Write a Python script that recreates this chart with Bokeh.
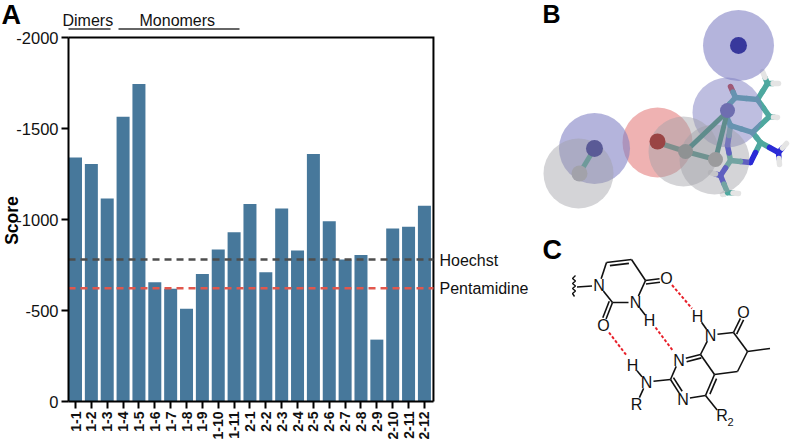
import math
from bokeh.embed import file_html
from bokeh.resources import INLINE
from bokeh.plotting import figure
from bokeh.layouts import row, column
from bokeh.models import Range1d, FixedTicker, Label
from bokeh.core.properties import value

FONT = "Liberation Sans"

# ---- panel A data ----
categories = ["1-1","1-2","1-3","1-4","1-5","1-6","1-7","1-8","1-9","1-10","1-11",
              "2-1","2-2","2-3","2-4","2-5","2-6","2-7","2-8","2-9","2-10","2-11","2-12"]
scores = [-1340,-1305,-1115,-1565,-1745,-655,-620,-510,-700,-835,-930,
          -1085,-710,-1060,-830,-1360,-990,-780,-805,-340,-950,-960,-1075]
y_ticks = [0,-500,-1000,-1500,-2000]
y_tick_labels = ["0","-500","-1000","-1500","-2000"]
hoechst = -780
pentamidine = -622

BAR = "#47789b"
X_L, X_R = -0.44, 22.57
Y_TOP = -2000

def data_y(py):
    return -(401 - py) / 0.182

def data_x(px):
    return (px - 75) / 15.86

a = figure(width=530, height=440, output_backend="svg", toolbar_location=None,
           x_range=Range1d(data_x(0), data_x(530)), y_range=Range1d(data_y(440), data_y(0)),
           min_border=0)
idx = list(range(len(categories)))
a.vbar(x=idx, top=scores, bottom=0, width=0.82, color=BAR, line_color=None)
a.grid.visible = False
a.outline_line_color = None

xa = a.xaxis[0]
xa.fixed_location = 0
xa.bounds = (X_L, X_R)
xa.ticker = FixedTicker(ticks=idx)
xa.major_label_overrides = {i: c for i, c in zip(idx, categories)}
xa.major_label_orientation = math.pi / 2
xa.major_label_text_font = FONT
xa.major_label_text_font_size = "14px"
xa.major_label_text_font_style = "bold"
xa.major_label_text_color = "#111111"
xa.major_label_standoff = 3
xa.axis_line_width = 2
xa.major_tick_line_width = 2
xa.major_tick_in = 0
xa.major_tick_out = 7
xa.minor_tick_line_color = None

ya = a.yaxis[0]
ya.fixed_location = X_L
ya.bounds = (Y_TOP, 0)
ya.ticker = FixedTicker(ticks=y_ticks)
ya.major_label_overrides = {t: s for t, s in zip(y_ticks, y_tick_labels)}
ya.major_label_text_font = FONT
ya.major_label_text_font_size = "16.5px"
ya.major_label_text_color = "#111111"
ya.major_label_standoff = 3
ya.axis_line_width = 2
ya.major_tick_line_width = 2
ya.major_tick_in = 0
ya.major_tick_out = 7
ya.minor_tick_line_color = None

# frame top and right edges
a.line([X_L, X_R, X_R], [Y_TOP, Y_TOP, 0], line_color="black", line_width=2, line_join="miter")
# reference lines
a.line([X_L, X_R], [hoechst, hoechst], line_color="#4d4d4d", line_width=2.6, line_dash="7 5")
a.line([X_L, X_R], [pentamidine, pentamidine], line_color="#e2574c", line_width=2.6, line_dash="7 5")
# group rules above the frame
for x0, x1 in [(68, 110), (118, 239)]:
    a.line([data_x(x0), data_x(x1)], [data_y(28.5), data_y(28.5)], line_color="#333333", line_width=1.4)

def a_text(txt, px, py, size, style="normal", color="#111111", angle=0.0, align="left"):
    a.add_layout(Label(x=data_x(px), y=data_y(py), text=txt, text_font=FONT,
                       text_font_size=size, text_font_style=style, text_color=color,
                       text_baseline="middle", text_align=align, angle=angle))

a_text("A", 1, 14, "27px", "bold", "black")
a_text("Score", 11, 220, "17.5px", "bold", "black", angle=math.pi / 2, align="center")
a_text("Dimers", 62, 20, "16px")
a_text("Monomers", 139, 20, "16px")
a_text("Hoechst", 439, 260, "16px")
a_text("Pentamidine", 439, 288, "16px")

# ---- panel B ----
b = figure(width=261, height=225, output_backend="svg", toolbar_location=None,
           x_range=Range1d(530, 791), y_range=Range1d(225, 0),
           min_border=0, x_axis_type=None, y_axis_type=None)
b.grid.visible = False
b.outline_line_color = None

TEAL = "#4ea89f"
mol_atoms = {
    "O": (730, 86), "C1": (735, 97), "C2": (757, 99), "C3": (769, 116), "C4": (752, 132),
    "C5": (730, 125), "C6": (723, 110), "Me": (767, 83), "H1": (778, 83), "H2": (762, 71),
    "H3": (777, 117), "C7": (760, 142), "N1": (778, 152), "H4": (786, 143), "H5": (779, 164),
    "N2": (750, 162), "C8": (730, 160), "N3": (727, 145), "N4": (720, 175), "C9": (727, 192),
    "H6": (722, 194), "H7": (738, 193), "H8": (710, 172),
}
mol_bonds = [("O","C1"),("C1","C2"),("C2","C3"),("C3","C4"),("C4","C5"),("C5","C6"),("C6","C1"),
             ("C2","Me"),("Me","H1"),("Me","H2"),("C3","H3"),("C4","C7"),("C7","N1"),("N1","H4"),
             ("N1","H5"),("C7","N2"),("N2","C8"),("C8","N3"),("N3","C5"),("C8","N4"),("N4","C9"),
             ("C9","H6"),("C9","H7"),("N4","H8")]
atom_col = {"O": "#c0342c", "N": "#2b2bd6", "H": "#e4e4e4", "C": TEAL, "M": TEAL}
for u, v in mol_bonds:
    (x0, y0), (x1, y1) = mol_atoms[u], mol_atoms[v]
    xm, ym = (x0 + x1) / 2, (y0 + y1) / 2
    b.line([x0, xm], [y0, ym], line_color=atom_col[u[0]], line_width=5.5, line_cap="round")
    b.line([xm, x1], [ym, y1], line_color=atom_col[v[0]], line_width=5.5, line_cap="round")

spheres_x = [738, 727, 657, 683, 714, 594, 578]
spheres_y = [45, 112, 142, 151, 159, 148, 173]
spheres_r = [35.5, 35, 35, 35, 35, 35.5, 35]
spheres_c = ["#7d7dc2", "#7d7dc2", "#e37a7a", "#a0a0a6", "#a0a0a6", "#7d7dc2", "#a0a0a6"]
spheres_a = [0.58, 0.5, 0.58, 0.45, 0.45, 0.58, 0.45]
b.circle(x=spheres_x, y=spheres_y, radius=spheres_r, fill_color=spheres_c, fill_alpha=spheres_a, line_color=None)

bead_bonds = [((657,142),(685,151),"#7d8f8c"), ((685,151),(715,159),"#6f9290"),
              ((685,151),(727,111),"#5f8c8c"), ((715,159),(727,111),"#5f8c8c"),
              ((594,148),(579,173),"#6f9a9a")]
for (x0, y0), (x1, y1), col in bead_bonds:
    b.line([x0, x1], [y0, y1], line_color=col, line_width=5)
beads_x = [738, 727, 657, 685, 715, 594, 579]
beads_y = [45, 110, 141, 151, 159, 148, 173]
beads_r = [8.5, 7.5, 8, 7.5, 7.5, 8.5, 8]
beads_c = ["#38389c", "#6e6eb0", "#9a4444", "#8f9293", "#9b9b9d", "#5a5a96", "#a2a2aa"]
b.circle(x=beads_x, y=beads_y, radius=beads_r, fill_color=beads_c, line_color=None)
b.text(x=[542], y=[13], text=["B"], text_font=value(FONT), text_font_size="25px",
       text_font_style="bold", text_color="black", text_baseline="middle")

# ---- panel C ----
c = figure(width=261, height=215, output_backend="svg", toolbar_location=None,
           x_range=Range1d(530, 791), y_range=Range1d(440, 225),
           min_border=0, x_axis_type=None, y_axis_type=None)
c.grid.visible = False
c.outline_line_color = None

ATOMS = {
    "N1": (598.5, 285, "N"), "C6": (606, 262), "C5": (631, 259), "C4": (645, 280),
    "N3": (635, 302, "N"), "C2": (612, 302), "O4": (666, 277.5, "O"), "O2": (603, 325, "O"),
    "W": (576.5, 286.5), "H3": (649, 320, "H"), "H8": (697, 316, "H"), "N8": (710, 334.5, "N"),
    "C7": (733, 332), "O7": (743, 311.5, "O"), "C6b": (747, 351), "Me": (769.5, 348),
    "C5b": (737, 371), "C4a": (714, 374), "C8a": (700, 354), "N1b": (678.5, 359.5, "N"),
    "C2b": (670, 379), "N3b": (682.5, 398.5, "N"), "C4b": (705, 395), "R2": (721, 415, "R"),
    "Nh": (646, 381.5, "N"), "Hn": (632, 365, "H"), "R": (636, 403.5, "R"),
}
SINGLE = [("W","N1"),("N1","C6"),("C5","C4"),("C4","N3"),("N3","C2"),("C2","N1"),("N3","H3"),
          ("H8","N8"),("N8","C7"),("C7","C6b"),("C6b","Me"),("C6b","C5b"),("C5b","C4a"),
          ("C4a","C8a"),("C8a","N8"),("C2b","N1b"),("N3b","C4b"),("C4b","R2"),("C2b","Nh"),
          ("Nh","Hn"),("Nh","R"),("C4a","C4b")]
DOUBLE = [("C6","C5",1),("C4","O4",1),("C2","O2",1),("C7","O7",1),("N1b","C8a",1),
          ("C2b","N3b",-1),("C4a","C4b",-1)]

def ends(u, v):
    A, B = ATOMS[u], ATOMS[v]
    dx, dy = B[0] - A[0], B[1] - A[1]
    L = math.hypot(dx, dy)
    ux, uy = dx / L, dy / L
    ta = 7 if len(A) > 2 else 0
    tb = 7 if len(B) > 2 else 0
    return A[0] + ux * ta, A[1] + uy * ta, B[0] - ux * tb, B[1] - uy * tb, ux, uy

for u, v in SINGLE:
    x0, y0, x1, y1, _, _ = ends(u, v)
    c.line([x0, x1], [y0, y1], line_color="#111111", line_width=1.6)
for u, v, s in DOUBLE:
    x0, y0, x1, y1, ux, uy = ends(u, v)
    nx, ny = -uy * 3.5 * s, ux * 3.5 * s
    if (u, v) != ("C4a", "C4b"):
        c.line([x0, x1], [y0, y1], line_color="#111111", line_width=1.6)
    sh = 3 if len(ATOMS[u]) == 2 and len(ATOMS[v]) == 2 else 0
    c.line([x0 + nx + ux * sh, x1 + nx - ux * sh], [y0 + ny + uy * sh, y1 + ny - uy * sh],
           line_color="#111111", line_width=1.6)

wavy_x = [575, 572, 575, 572, 575, 572, 575, 572, 574]
wavy_y = [275, 278, 280.5, 283, 285.5, 288, 290.5, 293, 296]
c.line(wavy_x, wavy_y, line_color="#111111", line_width=1.4)

for (x0, y0), (x1, y1) in [((671.5, 284.5), (691.5, 308)), ((655, 327), (673, 351)), ((608.5, 332), (626.5, 355.5))]:
    c.line([x0, x1], [y0, y1], line_color="#e8202a", line_width=2, line_dash="3 2")

lab = [k for k in ATOMS if len(ATOMS[k]) > 2 and k != "R2"]
c.text(x=[ATOMS[k][0] for k in lab], y=[ATOMS[k][1] for k in lab], text=[ATOMS[k][2] for k in lab],
       text_font=value(FONT), text_font_size="16px", text_color="#111111",
       text_align="center", text_baseline="middle")
c.text(x=[721.5], y=[415], text=["R"], text_font=value(FONT), text_font_size="16px", text_color="#111111",
       text_align="center", text_baseline="middle")
c.text(x=[727], y=[421], text=["2"], text_font=value(FONT), text_font_size="11px", text_color="#111111",
       text_align="left", text_baseline="middle")
c.text(x=[542], y=[249], text=["C"], text_font=value(FONT), text_font_size="27px",
       text_font_style="bold", text_color="black", text_baseline="middle")

root = row(a, column(b, c, spacing=0), spacing=0)
open("out.html", "w").write(file_html(root, INLINE))
